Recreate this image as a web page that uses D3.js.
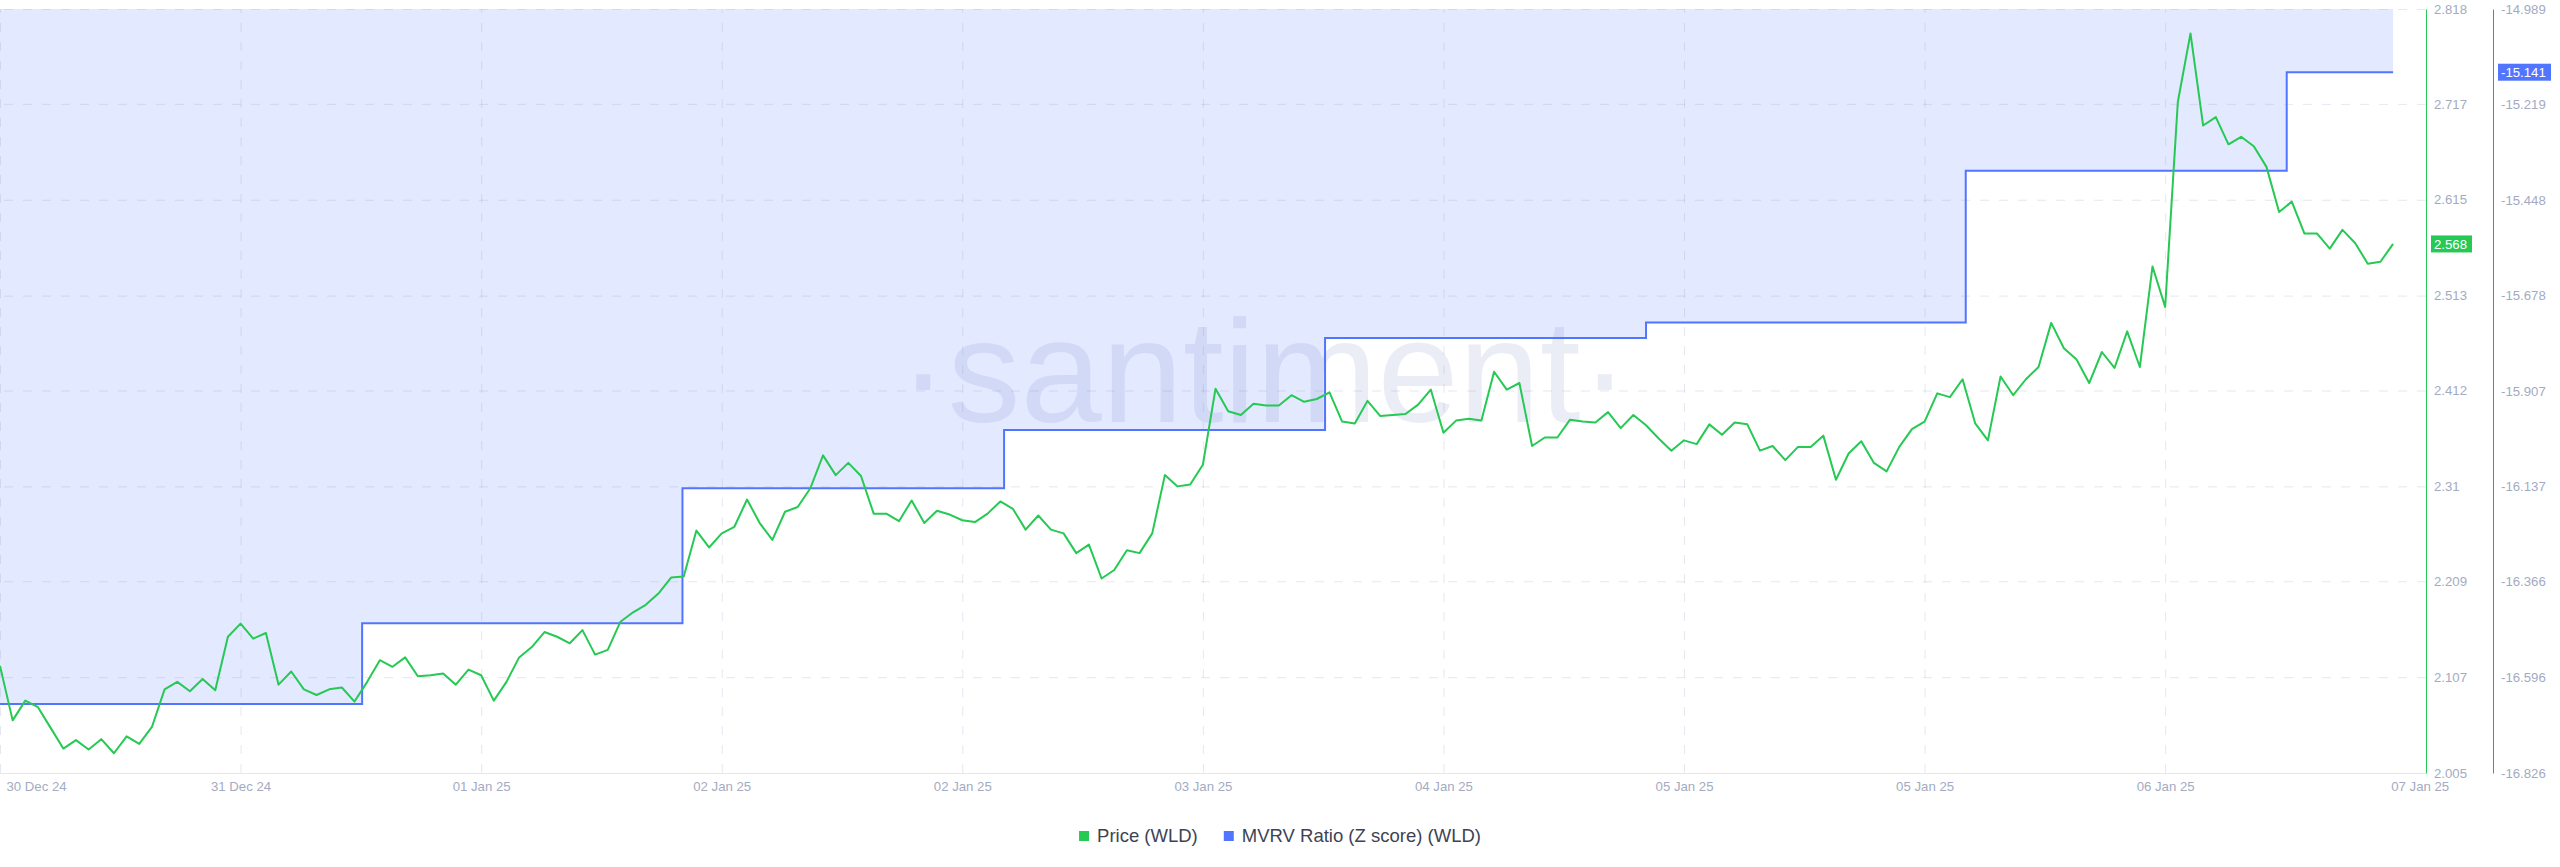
<!DOCTYPE html>
<html>
<head>
<meta charset="utf-8">
<script src="https://cdn.jsdelivr.net/npm/d3@7"></script>
<style>
  body { margin: 0; background: #fff; }
  svg { display: block; font-family: "Liberation Sans", Arial, sans-serif; }
</style>
</head>
<body>
<div id="chart"></div>
<script>
// hourly WLD price
const price = [
  2.119, 2.061, 2.082, 2.075, 2.053, 2.031, 2.040, 2.030, 2.041, 2.026,
  2.044, 2.036, 2.054, 2.094, 2.102, 2.092, 2.105, 2.093, 2.150, 2.164,
  2.148, 2.154, 2.099, 2.113, 2.094, 2.088, 2.094, 2.096, 2.081, 2.102,
  2.125, 2.118, 2.128, 2.108, 2.109, 2.111, 2.099, 2.115, 2.109, 2.082,
  2.102, 2.128, 2.139, 2.155, 2.150, 2.143, 2.157, 2.131, 2.136, 2.166,
  2.176, 2.184, 2.196, 2.213, 2.214, 2.263, 2.245, 2.260, 2.267, 2.296,
  2.271, 2.253, 2.283, 2.288, 2.308, 2.343, 2.322, 2.335, 2.321, 2.281,
  2.281, 2.273, 2.295, 2.271, 2.284, 2.280, 2.274, 2.272, 2.281, 2.294,
  2.286, 2.264, 2.279, 2.264, 2.260, 2.239, 2.248, 2.212, 2.221, 2.242,
  2.239, 2.260, 2.322, 2.310, 2.312, 2.333, 2.414, 2.390, 2.386, 2.398,
  2.396, 2.396, 2.407, 2.400, 2.403, 2.410, 2.379, 2.377, 2.401, 2.385,
  2.386, 2.387, 2.397, 2.413, 2.367, 2.380, 2.382, 2.380, 2.432, 2.413,
  2.420, 2.353, 2.362, 2.362, 2.381, 2.379, 2.378, 2.389, 2.372, 2.386,
  2.375, 2.361, 2.348, 2.359, 2.355, 2.376, 2.365, 2.378, 2.376, 2.348,
  2.353, 2.338, 2.352, 2.352, 2.364, 2.317, 2.345, 2.358, 2.335, 2.326,
  2.352, 2.371, 2.379, 2.409, 2.405, 2.424, 2.377, 2.359, 2.427, 2.407,
  2.424, 2.437, 2.484, 2.457, 2.445, 2.420, 2.453, 2.436, 2.475, 2.437,
  2.544, 2.501, 2.719, 2.792, 2.694, 2.703, 2.674, 2.682, 2.672, 2.650,
  2.602, 2.613, 2.579, 2.579, 2.563, 2.583, 2.569, 2.547, 2.549, 2.568
];

// MVRV z-score: value holds from each change hour until the next
const mvrvChangeHours = [0, 28.6, 53.9, 79.3, 104.65, 130.0, 155.25, 180.6];
const mvrvValues = [-16.660, -16.466, -16.1415, -16.001, -15.780, -15.743, -15.378, -15.141];

const xTickHours = [0, 19, 38, 57, 76, 95, 114, 133, 152, 171, 191.1];
const xTickLabels = ["30 Dec 24", "31 Dec 24", "01 Jan 25", "02 Jan 25", "02 Jan 25", "03 Jan 25",
                     "04 Jan 25", "05 Jan 25", "05 Jan 25", "06 Jan 25", "07 Jan 25"];
const priceTicks = [2.005, 2.107, 2.209, 2.31, 2.412, 2.513, 2.615, 2.717, 2.818];
const mvrvTicks = [-16.826, -16.596, -16.366, -16.137, -15.907, -15.678, -15.448, -15.219, -14.989];

const W = 2560, H = 867;
const plotL = 0, plotR = 2426, plotT = 9, plotB = 773;
const mvrvAxisX = 2493;
const green = "#26c953", blue = "#5275ff";
const tickColor = "#a3abc2";

const svg = d3.select("#chart").append("svg")
    .attr("width", W)
    .attr("height", H);

svg.append("rect").attr("width", W).attr("height", H).attr("fill", "#fff");

const x = d3.scaleLinear().domain([0, 191.6]).range([plotL, plotR]);
const yP = d3.scaleLinear().domain([2.005, 2.818]).range([plotB, plotT]);
const yM = d3.scaleLinear().domain([-16.826, -14.989]).range([plotB, plotT]);

const lastHour = price.length - 1;
const mvrvPts = mvrvChangeHours.map((h, i) => ({t: h, v: mvrvValues[i]}));
mvrvPts.push({t: lastHour, v: mvrvValues[mvrvValues.length - 1]});

// shaded area between the MVRV line and the top of the plot
svg.append("path")
    .datum(mvrvPts)
    .attr("fill", blue)
    .attr("fill-opacity", 0.16)
    .attr("d", d3.area()
        .curve(d3.curveStepAfter)
        .x(d => x(d.t))
        .y0(plotT)
        .y1(d => yM(d.v)));

// grid
const grid = svg.append("g").attr("class", "grid");
grid.append("g")
    .attr("transform", `translate(${plotR},0)`)
    .call(d3.axisRight(yP).tickValues(priceTicks.slice(1)).tickSize(-(plotR - plotL)).tickFormat(""));
grid.append("g")
    .attr("transform", `translate(0,${plotB})`)
    .call(d3.axisBottom(x).tickValues(xTickHours.slice(0, -1)).tickSize(-(plotB - plotT)).tickFormat(""));
grid.selectAll(".domain").remove();
grid.selectAll("line")
    .attr("stroke", "#8a97c0")
    .attr("stroke-opacity", 0.22)
    .attr("stroke-dasharray", "9,10");

// watermark
svg.append("text")
    .attr("x", 1264)
    .attr("y", 422)
    .attr("text-anchor", "middle")
    .attr("font-size", 146)
    .attr("fill", "#5a6fb5")
    .attr("fill-opacity", 0.12)
    .text("\u00b7santiment\u00b7");

// x axis
const xAxis = svg.append("g")
    .attr("transform", `translate(0,${plotB})`)
    .call(d3.axisBottom(x).tickValues(xTickHours).tickFormat((d, i) => xTickLabels[i])
        .tickSize(0).tickSizeOuter(0).tickPadding(9));
xAxis.select(".domain").attr("stroke", "#e3e7f1").attr("d", `M${plotL},0.5H${plotR}`);
xAxis.selectAll("text")
    .attr("fill", tickColor)
    .attr("font-size", 13.2)
    .attr("font-family", "Liberation Sans, Arial, sans-serif");
xAxis.selectAll(".tick").filter((d, i) => i === 0).select("text")
    .attr("text-anchor", "start").attr("dx", 6);

// price axis
const pAxis = svg.append("g")
    .attr("transform", `translate(${plotR},0)`)
    .call(d3.axisRight(yP).tickValues(priceTicks).tickFormat((d, i) => priceTicks[i])
        .tickSize(0).tickSizeOuter(0).tickPadding(8));
pAxis.select(".domain").attr("stroke", green);
pAxis.selectAll("text")
    .attr("fill", tickColor)
    .attr("font-size", 13.2)
    .attr("font-family", "Liberation Sans, Arial, sans-serif");

// mvrv axis
const mAxis = svg.append("g")
    .attr("transform", `translate(${mvrvAxisX},0)`)
    .call(d3.axisRight(yM).tickValues(mvrvTicks).tickFormat((d, i) => mvrvTicks[i])
        .tickSize(0).tickSizeOuter(0).tickPadding(8));
mAxis.select(".domain").attr("stroke", blue);
mAxis.selectAll("text")
    .attr("fill", tickColor)
    .attr("font-size", 13.2)
    .attr("font-family", "Liberation Sans, Arial, sans-serif");

// lines
svg.append("path")
    .datum(mvrvPts)
    .attr("fill", "none")
    .attr("stroke", blue)
    .attr("stroke-width", 2)
    .attr("d", d3.line().curve(d3.curveStepAfter).x(d => x(d.t)).y(d => yM(d.v)));

svg.append("path")
    .datum(price)
    .attr("fill", "none")
    .attr("stroke", green)
    .attr("stroke-width", 2)
    .attr("stroke-linejoin", "round")
    .attr("d", d3.line().x((d, i) => x(i)).y(d => yP(d)));

// last value badges
let badge = (ax, yv, label, color, w) => {
    const g = svg.append("g").attr("transform", `translate(${ax},${yv})`);
    g.append("rect").attr("x", 5).attr("y", -8.5).attr("width", w).attr("height", 17).attr("fill", color);
    g.append("text").attr("x", 8).attr("dy", "0.35em")
        .attr("fill", "#fff").attr("font-size", 13.2).text(label);
};
const lastPrice = price[lastHour];
const lastMvrv = mvrvValues[mvrvValues.length - 1];
badge(plotR, yP(lastPrice), lastPrice.toFixed(3), green, 41);
badge(mvrvAxisX, yM(lastMvrv), lastMvrv.toFixed(3), blue, 53);

// legend
const legendItems = [{name: "Price (WLD)", color: green}, {name: "MVRV Ratio (Z score) (WLD)", color: blue}];
const legend = svg.append("g").attr("transform", "translate(0,836)");
let lx = 0;
legendItems.forEach(item => {
    const g = legend.append("g").attr("transform", `translate(${lx},0)`);
    g.append("rect").attr("x", 0).attr("y", -5).attr("width", 10).attr("height", 10).attr("fill", item.color);
    const t = g.append("text").attr("x", 18).attr("dy", "0.35em")
        .attr("font-size", 18.5).attr("fill", "#3e4354").text(item.name);
    lx += 18 + t.node().getComputedTextLength() + 26;
});
const legendW = lx - 26;
legend.attr("transform", `translate(${W / 2 - legendW / 2},836)`);
</script>
</body>
</html>
